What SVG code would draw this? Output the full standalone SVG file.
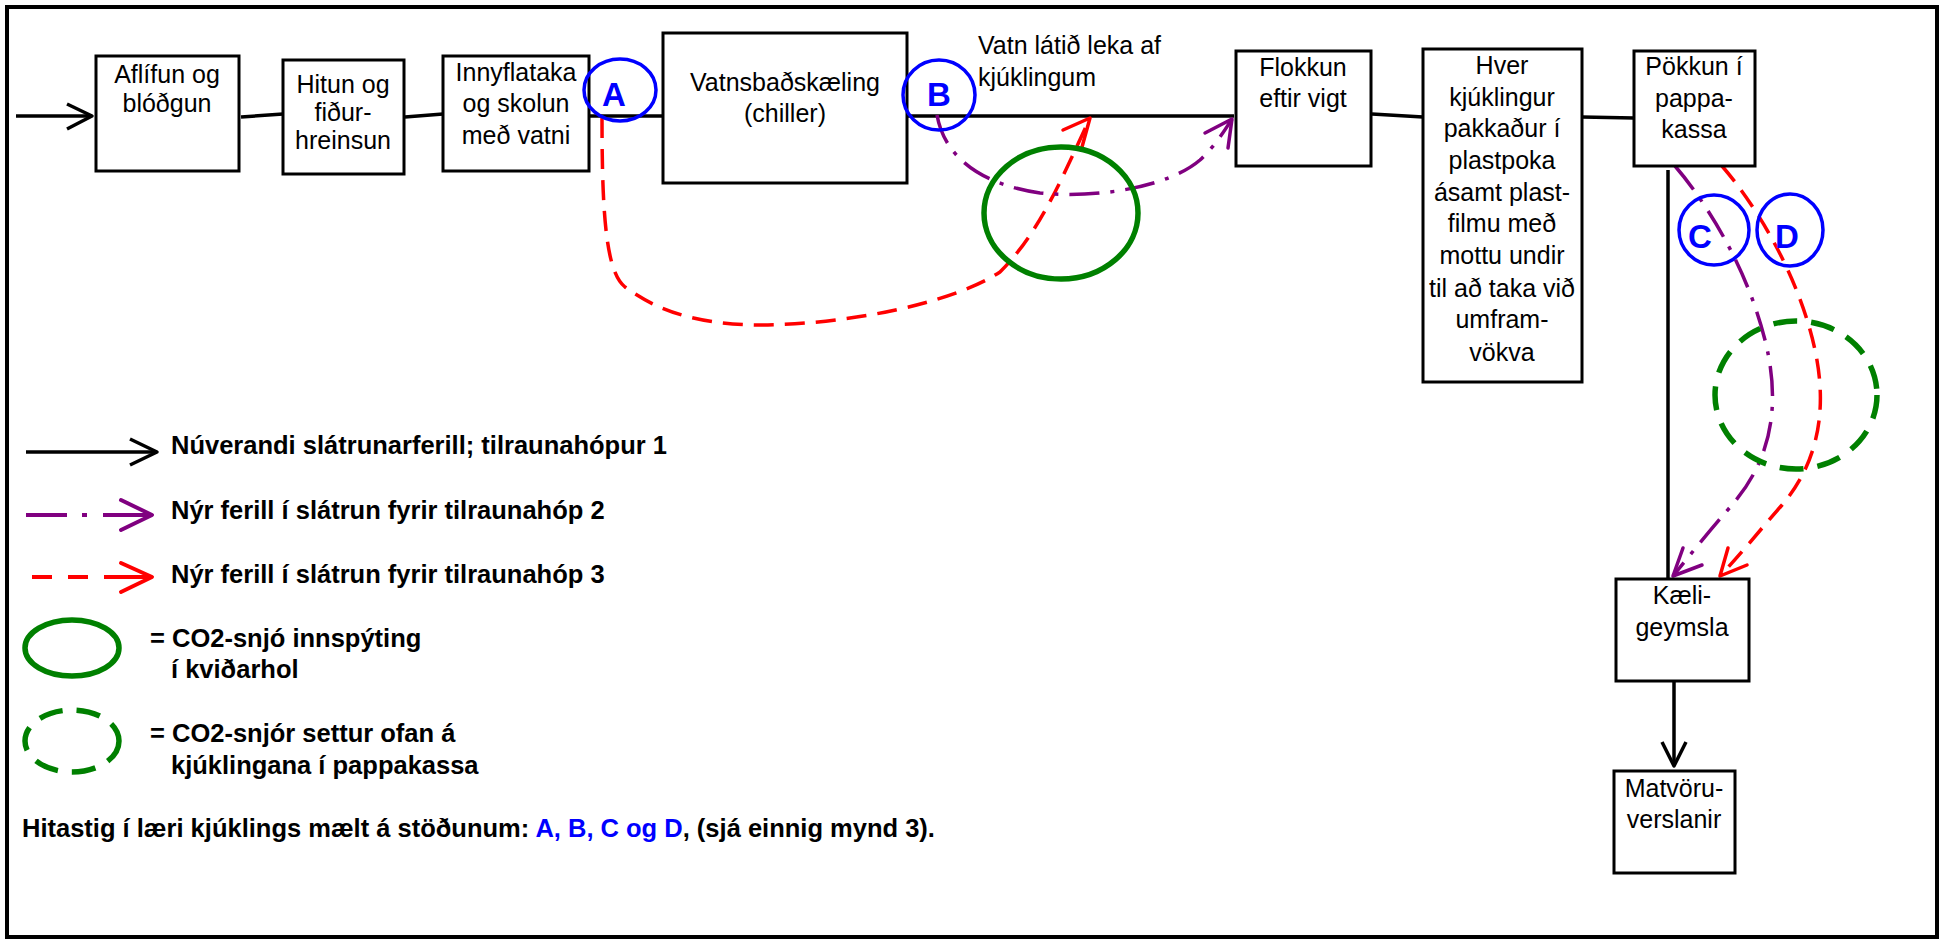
<svg xmlns="http://www.w3.org/2000/svg" width="1945" height="941" viewBox="0 0 1945 941">
<style>
text{font-family:"Liberation Sans",Arial,sans-serif;fill:#000}
.t{font-size:25px;text-anchor:middle}
.tl{font-size:25px}
.b{font-size:25.5px;font-weight:bold}
.lab{font-size:33px;font-weight:bold;fill:#0000FF;text-anchor:middle}
.box{fill:#fff;stroke:#000;stroke-width:3}
.ln{fill:none;stroke:#000;stroke-width:3.5}
.red{fill:none;stroke:#FF0000;stroke-width:3.5;stroke-dasharray:20 11}
.pur{fill:none;stroke:#800080;stroke-width:3.5;stroke-dasharray:30 11 4 11}
.redh{fill:none;stroke:#FF0000;stroke-width:3.5;stroke-linecap:round;stroke-linejoin:round}
.purh{fill:none;stroke:#800080;stroke-width:3.5;stroke-linecap:round;stroke-linejoin:round}
.blk{fill:none;stroke:#000;stroke-width:3.5;stroke-linejoin:round}
.circ{fill:none;stroke:#0000FF;stroke-width:3.5}
.gs{fill:none;stroke:#008000;stroke-width:5.5}
.gd{fill:none;stroke:#008000;stroke-width:5.5;stroke-dasharray:24 14}
</style>
<rect x="7" y="7" width="1930" height="930" fill="#fff" stroke="#000" stroke-width="4"/>

<g id="connectors">
<line class="ln" x1="16" y1="116" x2="92" y2="116"/>
<polyline class="blk" points="67,104 92,116 67,129"/>
<line class="ln" x1="241" y1="117" x2="283" y2="114"/>
<line class="ln" x1="405" y1="117" x2="443" y2="114"/>
<line class="ln" x1="589" y1="116" x2="663" y2="116"/>
<line class="ln" x1="907" y1="116" x2="1234" y2="116"/>
<line class="ln" x1="1372" y1="114" x2="1423" y2="117"/>
<line class="ln" x1="1582" y1="117" x2="1634" y2="118"/>
<line class="ln" x1="1668" y1="170" x2="1668" y2="579"/>
<line class="ln" x1="1674" y1="681" x2="1674" y2="765"/>
<polyline class="blk" points="1662,742 1674,766 1686,742"/>
<path class="red" d="M602,118 C602,215 606,272 625,287 C650,305 685,324 757,325 C850,325 955,302 1000,272 C1040,232 1062,178 1090,118"/>
<polyline class="redh" points="1063,130 1090,118 1082,147"/>
<path class="pur" d="M937,115 C945,160 985,185 1040,193 C1100,199 1170,186 1200,160 C1215,146 1225,130 1232,119"/>
<polyline class="purh" points="1205,133 1232,119 1228,148"/>
<path class="pur" d="M1675,166 C1700,195 1745,260 1765,340 C1785,420 1762,470 1732,505 C1710,530 1690,555 1673,576"/>
<polyline class="purh" points="1683,548 1673,576 1702,565"/>
<path class="red" d="M1722,166 C1760,210 1800,280 1815,350 C1830,420 1812,470 1782,505 C1760,530 1740,555 1720,576"/>
<polyline class="redh" points="1728,548 1720,576 1747,565"/>
</g>

<g id="n1"><rect class="box" x="96" y="56" width="143" height="115"/>
<text class="t" x="167" y="83">Aflífun og</text><text class="t" x="167" y="112">blóðgun</text></g>
<g id="n2"><rect class="box" x="283" y="60" width="121" height="114"/>
<text class="t" x="343" y="93">Hitun og</text><text class="t" x="343" y="121">fiður-</text><text class="t" x="343" y="149">hreinsun</text></g>
<g id="n3"><rect class="box" x="443" y="56" width="146" height="115"/>
<text class="t" x="516" y="81">Innyflataka</text><text class="t" x="516" y="112">og skolun</text><text class="t" x="516" y="144">með vatni</text></g>
<g id="n4"><rect class="box" x="663" y="33" width="244" height="150"/>
<text class="t" x="785" y="91">Vatnsbaðskæling</text><text class="t" x="785" y="122">(chiller)</text></g>
<g id="n5"><text class="tl" x="978" y="54">Vatn látið leka af</text><text class="tl" x="978" y="86">kjúklingum</text></g>
<g id="n6"><rect class="box" x="1236" y="51" width="135" height="115"/>
<text class="t" x="1303" y="76">Flokkun</text><text class="t" x="1303" y="107">eftir vigt</text></g>
<g id="n7"><rect class="box" x="1423" y="49" width="159" height="333"/>
<text class="t" x="1502" y="74">Hver</text><text class="t" x="1502" y="106">kjúklingur</text><text class="t" x="1502" y="137">pakkaður í</text><text class="t" x="1502" y="169">plastpoka</text><text class="t" x="1502" y="201">ásamt plast-</text><text class="t" x="1502" y="232">filmu með</text><text class="t" x="1502" y="264">mottu undir</text><text class="t" x="1502" y="297">til að taka við</text><text class="t" x="1502" y="328">umfram-</text><text class="t" x="1502" y="361">vökva</text></g>
<g id="n8"><rect class="box" x="1634" y="51" width="121" height="115"/>
<text class="t" x="1694" y="75">Pökkun í</text><text class="t" x="1694" y="107">pappa-</text><text class="t" x="1694" y="138">kassa</text></g>
<g id="n9"><rect class="box" x="1616" y="579" width="133" height="102"/>
<text class="t" x="1682" y="604">Kæli-</text><text class="t" x="1682" y="636">geymsla</text></g>
<g id="n10"><rect class="box" x="1614" y="771" width="121" height="102"/>
<text class="t" x="1674" y="797">Matvöru-</text><text class="t" x="1674" y="828">verslanir</text></g>

<g id="co2-1"><ellipse class="gs" cx="1061" cy="213" rx="77" ry="66"/></g>
<g id="co2-2"><ellipse class="gd" cx="1796" cy="395" rx="81" ry="74"/></g>

<g id="pA"><ellipse class="circ" cx="620" cy="90" rx="36" ry="31"/><text class="lab" x="614" y="106">A</text></g>
<g id="pB"><ellipse class="circ" cx="939" cy="95" rx="36" ry="35"/><text class="lab" x="939" y="106">B</text></g>
<g id="pC"><ellipse class="circ" cx="1714" cy="230" rx="35" ry="35"/><text class="lab" x="1700" y="248">C</text></g>
<g id="pD"><ellipse class="circ" cx="1790" cy="230" rx="33" ry="36"/><text class="lab" x="1787" y="248">D</text></g>

<g id="legend">
<line class="ln" x1="26" y1="452" x2="157" y2="452"/>
<polyline class="blk" points="130,439 157,452 130,465"/>
<text class="b" x="171" y="454">Núverandi slátrunarferill; tilraunahópur 1</text>
<g fill="none" stroke="#800080" stroke-width="4">
<line x1="26" y1="515" x2="67" y2="515"/><line x1="82" y1="515" x2="87" y2="515"/><line x1="103" y1="515" x2="152" y2="515"/>
<polyline points="121,500 152,515 121,530" stroke-linecap="round" stroke-linejoin="round"/></g>
<text class="b" x="171" y="519">Nýr ferill í slátrun fyrir tilraunahóp 2</text>
<g fill="none" stroke="#FF0000" stroke-width="4">
<line x1="32" y1="577" x2="52" y2="577"/><line x1="68" y1="577" x2="88" y2="577"/><line x1="104" y1="577" x2="152" y2="577"/>
<polyline points="121,563 152,577 121,592" stroke-linecap="round" stroke-linejoin="round"/></g>
<text class="b" x="171" y="583">Nýr ferill í slátrun fyrir tilraunahóp 3</text>
<ellipse class="gs" cx="72" cy="648" rx="47" ry="28" stroke-width="4.5"/>
<text class="b" x="150" y="647">= CO2-snjó innspýting</text>
<text class="b" x="171" y="678">í kviðarhol</text>
<ellipse class="gd" cx="72" cy="741" rx="47" ry="31" stroke-width="4.5" stroke-dasharray="20 17"/>
<text class="b" x="150" y="742">= CO2-snjór settur ofan á</text>
<text class="b" x="171" y="774">kjúklingana í pappakassa</text>
<text class="b" x="22" y="837">Hitastig í læri kjúklings mælt á stöðunum: <tspan fill="#0000FF">A, B, C og D</tspan>, (sjá einnig mynd 3).</text>
</g>
</svg>
